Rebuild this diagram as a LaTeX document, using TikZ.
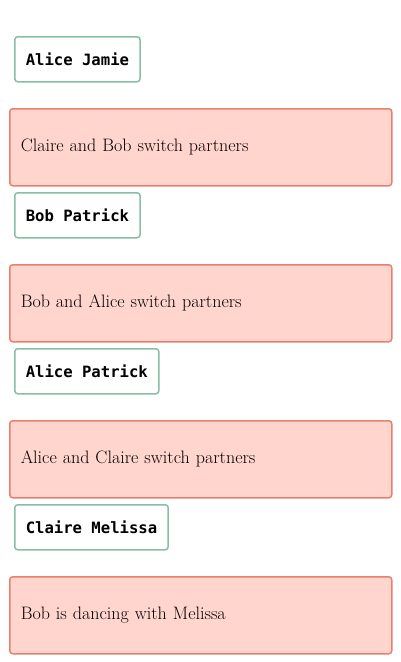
\documentclass[tikz,border=0pt]{standalone}
\usepackage{fontspec}
\setmonofont{DejaVu Sans Mono}
\usepackage{xcolor}
\definecolor{pairline}{RGB}{134,191,164}
\definecolor{stepline}{RGB}{232,128,112}
\definecolor{stepfill}{RGB}{255,213,206}

\begin{document}
\begin{tikzpicture}
[x=1pt,y=-1pt]
\tikzset{
	pair/.style = {rectangle, draw = pairline, line width = 1.5pt, rounded corners = 3pt, anchor = north west,
		minimum height = 45pt, inner xsep = 11pt, font = \fontsize{15.6}{18}\selectfont\ttfamily\bfseries},
	swap/.style = {rectangle, draw = stepline, fill = stepfill, line width = 1.5pt, rounded corners = 3pt, anchor = north west,
		minimum height = 77pt, inner xsep = 11pt, text width = 360pt, align = left, font = \fontsize{18}{21}\selectfont}
}
\useasboundingbox (0,0) rectangle (400,662);

\node(p1) [pair] at (14,36) {Alice Jamie};
\node(s1) [swap] at (9,108) {Claire and Bob switch partners};
\node(p2) [pair] at (14,192) {Bob Patrick};
\node(s2) [swap] at (9,264) {Bob and Alice switch partners};
\node(p3) [pair] at (14,348) {Alice Patrick};
\node(s3) [swap] at (9,420) {Alice and Claire switch partners};
\node(p4) [pair] at (14,504) {Claire Melissa};
\node(s4) [swap] at (9,576) {Bob is dancing with Melissa};
\end{tikzpicture}
\end{document}
